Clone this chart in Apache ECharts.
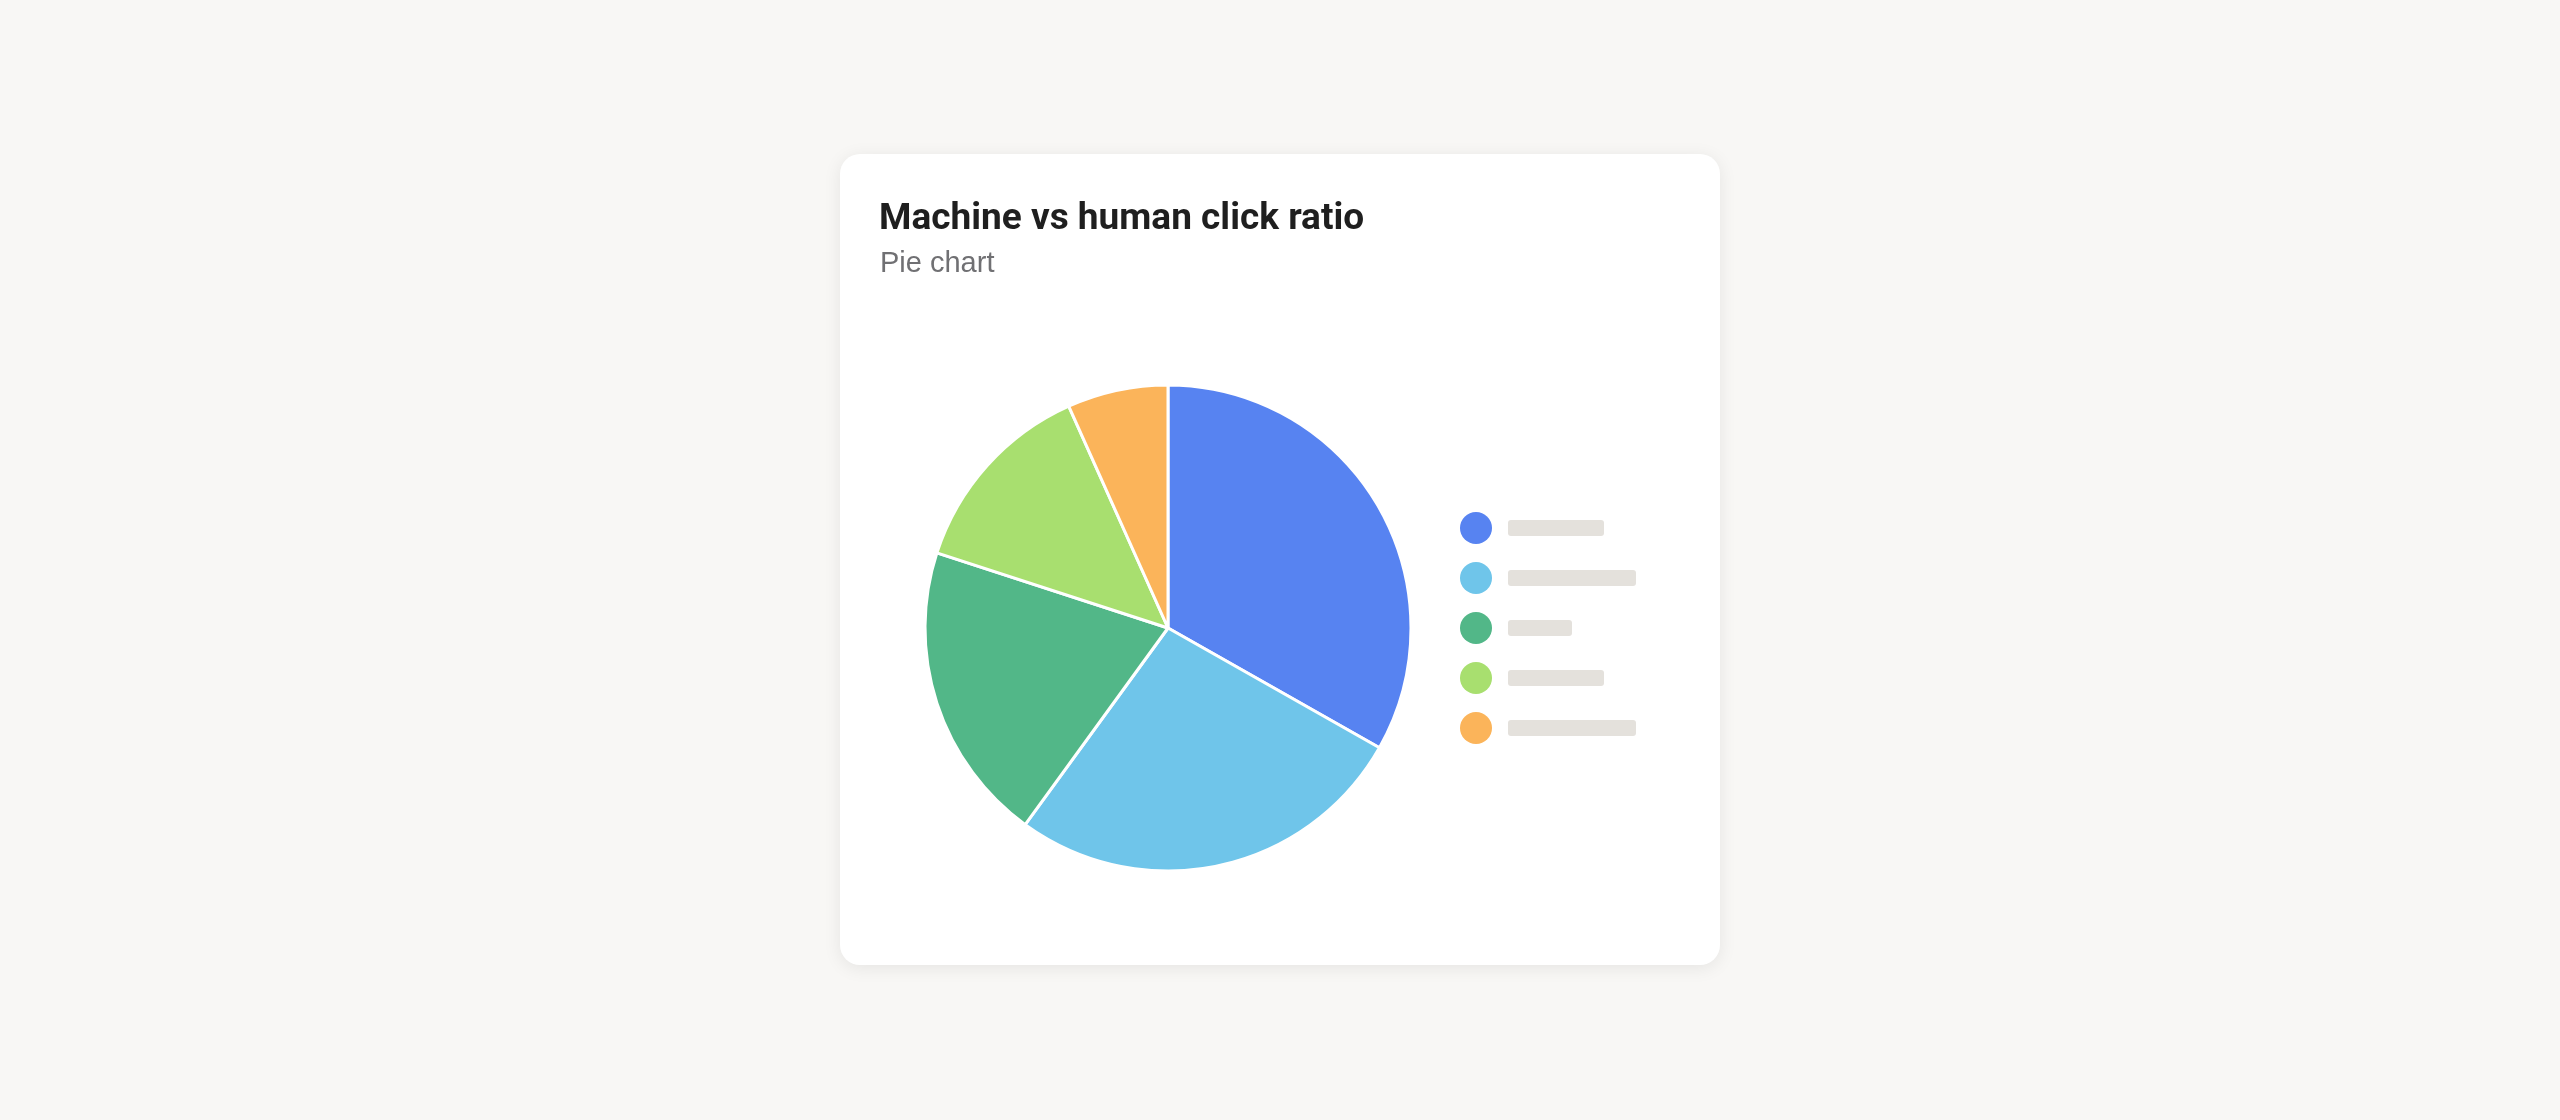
<!DOCTYPE html>
<html>
<head>
<meta charset="utf-8">
<script src="https://cdn.jsdelivr.net/npm/echarts@6/dist/echarts.min.js"></script>
<style>
html,body{margin:0;padding:0;background:#f8f7f5;}
#chart{width:2560px;height:1120px;}
</style>
</head>
<body>
<div id="chart"></div>
<script>
// Data
var categories = ['Segment A', 'Segment B', 'Segment C', 'Segment D', 'Segment E'];
var values = [33.2, 26.8, 20.0, 13.3, 6.7];
var colors = ['#5783f1', '#6fc5ea', '#52b788', '#a8df6f', '#fbb45a'];
var legendPlaceholderWidths = [96, 128, 64, 96, 128];
var titleText = 'Machine vs human click ratio';
var subtitleText = 'Pie chart';

var chart = echarts.init(document.getElementById('chart'), null, {renderer: 'canvas'});

var rich = { s: { width: 11, height: 16 } };
legendPlaceholderWidths.forEach(function (w, i) {
  rich['b' + i] = { width: w, height: 16, backgroundColor: '#e4e1dc', borderRadius: 3 };
});

var option = {
  backgroundColor: '#f8f7f5',
  animation: false,
  graphic: [{
    type: 'rect',
    z: -10,
    shape: { x: 840, y: 154, width: 880, height: 811, r: 20 },
    style: {
      fill: '#ffffff',
      shadowBlur: 18,
      shadowColor: 'rgba(0,0,0,0.08)',
      shadowOffsetY: 3
    }
  }],
  title: [{
    text: titleText,
    left: 879,
    top: 201,
    padding: 0,
    textStyle: {
      fontFamily: 'Roboto',
      fontWeight: 700,
      fontSize: 37,
      color: '#1f1f1f'
    }
  }, {
    text: subtitleText,
    left: 875,
    top: 244,
    textStyle: {
      fontFamily: 'Liberation Sans',
      fontWeight: 400,
      fontSize: 29,
      color: '#707073'
    }
  }],
  legend: {
    orient: 'vertical',
    left: 1460,
    top: 512,
    padding: 0,
    itemWidth: 32,
    itemHeight: 32,
    itemGap: 18,
    icon: 'circle',
    itemStyle: { borderWidth: 0 },
    data: categories,
    formatter: function (name) {
      var i = categories.indexOf(name);
      return '{s|}{b' + i + '|}';
    },
    textStyle: { rich: rich }
  },
  series: [{
    type: 'pie',
    center: [1168, 628],
    radius: 243,
    startAngle: 90,
    clockwise: true,
    label: { show: false },
    labelLine: { show: false },
    itemStyle: { borderColor: '#ffffff', borderWidth: 3 },
    data: categories.map(function (c, i) {
      return { name: c, value: values[i], itemStyle: { color: colors[i] } };
    })
  }]
};
chart.setOption(option);
</script>
</body>
</html>
